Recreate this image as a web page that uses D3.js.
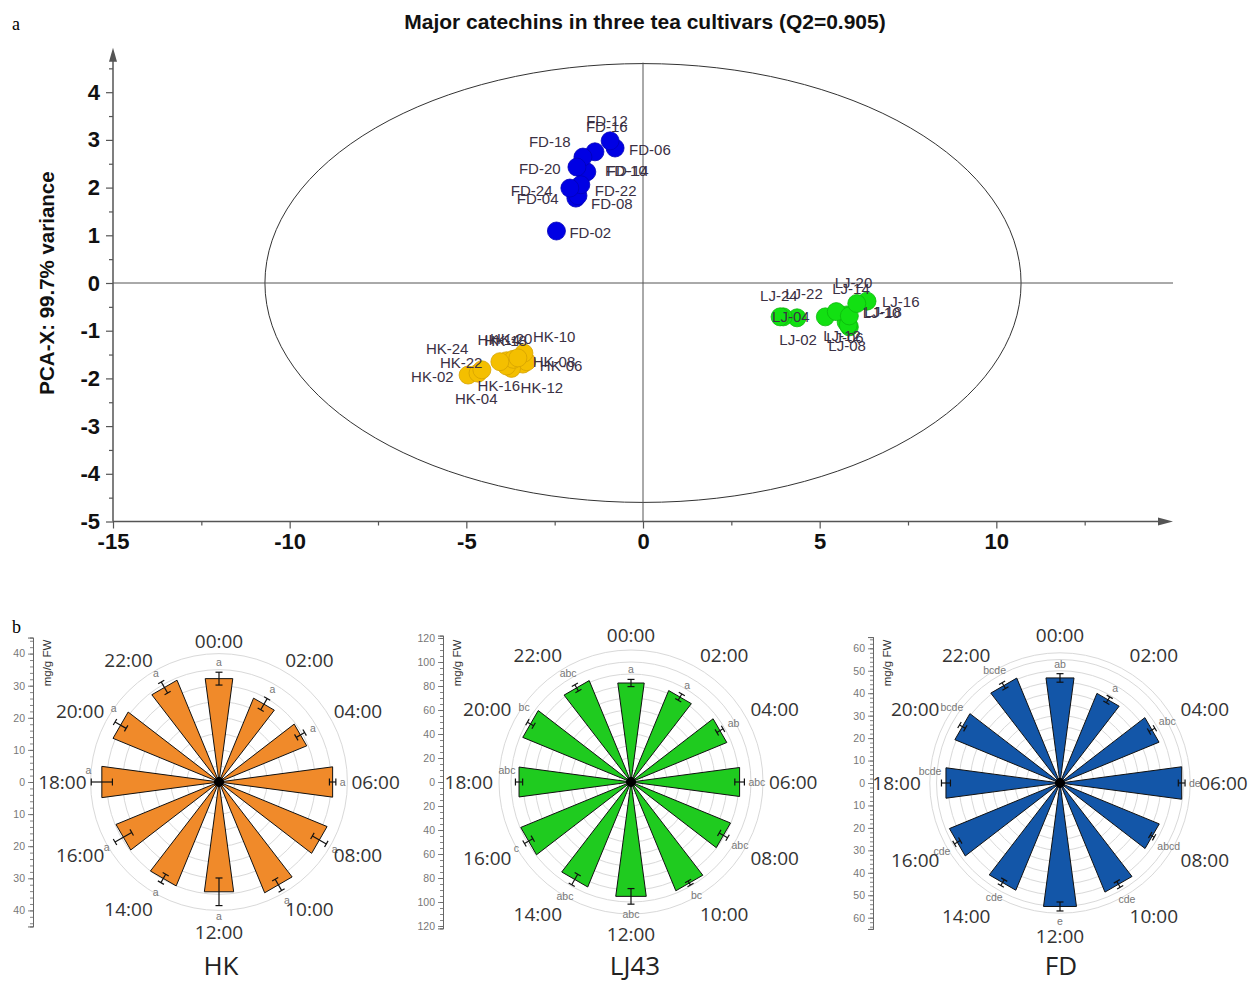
<!DOCTYPE html>
<html><head><meta charset="utf-8">
<script src="https://cdn.jsdelivr.net/npm/d3@7"></script>
<style>body{margin:0;background:#fff} svg{display:block}</style>
</head><body><svg id="c" width="1249" height="982"></svg>
<script>
// ---------------- DATA ----------------
// Panel a: PCA scores
const fdNames = ["FD-02","FD-04","FD-06","FD-08","FD-10","FD-12","FD-14","FD-16","FD-18","FD-20","FD-22","FD-24"];
const fdX = [-2.45,-1.90,-0.79,-1.84,-1.64,-0.93,-1.59,-1.36,-1.70,-1.87,-1.76,-2.07];
const fdY = [1.09,1.78,2.83,1.83,2.32,2.98,2.33,2.75,2.64,2.43,2.06,1.99];
const ljNames = ["LJ-02","LJ-04","LJ-06","LJ-08","LJ-10","LJ-12","LJ-14","LJ-16","LJ-18","LJ-20","LJ-22","LJ-24"];
const ljX = [5.16,4.36,5.75,5.84,5.77,5.81,5.47,6.34,5.84,6.05,3.97,3.88];
const ljY = [-0.71,-0.73,-0.82,-0.92,-0.67,-0.88,-0.60,-0.38,-0.69,-0.43,-0.71,-0.71];
const hkNames = ["HK-02","HK-04","HK-06","HK-08","HK-10","HK-12","HK-14","HK-16","HK-18","HK-20","HK-22","HK-24"];
const hkX = [-4.95,-4.67,-3.40,-3.29,-3.37,-3.72,-3.86,-3.86,-3.67,-3.54,-4.56,-4.05];
const hkY = [-1.93,-1.89,-1.70,-1.65,-1.47,-1.79,-1.63,-1.74,-1.60,-1.57,-1.82,-1.65];
const xTicks = [-15,-10,-5,0,5,10];
const yTicks = [-5,-4,-3,-2,-1,0,1,2,3,4];
const ellipseRx = 10.7, ellipseRy = 4.6;

// Panel b: rose charts (mg/g FW)
const times = ["00:00","02:00","04:00","06:00","08:00","10:00","12:00","14:00","16:00","18:00","20:00","22:00"];
const hkVal = [32.2,28.0,29.3,35.4,36.1,37.0,34.2,34.7,34.4,36.5,35.4,34.0];
const hkErr = [2.0,2.0,1.5,1.0,2.5,2.0,4.3,1.5,3.0,3.3,2.0,2.0];
const hkLet = ["a","a","a","a","a","a","a","a","a","a","a","a"];
const ljVal = [82.5,81.7,85.6,90.5,88.9,97.2,95.3,93.8,98.5,93.3,96.7,90.6];
const ljErr = [3,3,3,4,4,2,6.5,5,4,3,3,3];
const ljLet = ["a","a","ab","abc","abc","bc","abc","abc","c","abc","bc","abc"];
const fdVal = [46.8,42.8,47.3,54.2,47.4,52.1,55.0,51.2,52.8,50.8,50.2,50.1];
const fdErr = [1.9,1.5,1.5,1.5,1.0,1.5,2.0,1.5,1.5,2.0,1.5,1.5];
const fdLet = ["ab","a","abc","de","abcd","cde","e","cde","cde","bcde","bcde","bcde"];

// ---------------- LAYOUT / STYLE ----------------
const svg = d3.select("#c");
const labelNudge = {
 "FD-02":[13,1],"FD-04":[-59,0],"FD-06":[14,1],"FD-08":[13,8],"FD-10":[20,-2],"FD-12":[-24,-20],
 "FD-14":[20,-1],"FD-16":[-9,-25],"FD-18":[-54,-16],"FD-20":[-58,1],"FD-22":[14,6],"FD-24":[-59,2],
 "LJ-02":[-46,23],"LJ-04":[-25,-1],"LJ-06":[-20,15],"LJ-08":[-21,19],"LJ-10":[16,-2],"LJ-12":[-25,11],
 "LJ-14":[-4,-23],"LJ-16":[15,0],"LJ-18":[15,-4],"LJ-20":[-22,-21],"LJ-22":[2,-23],"LJ-24":[-20,-21],
 "HK-02":[-57,1],"HK-04":[-23,25],"HK-06":[17,1],"HK-08":[6,0],"HK-10":[9,-17],"HK-12":[9,19],
 "HK-14":[-29,-21],"HK-16":[-29,20],"HK-18":[-29,-19],"HK-20":[-28,-19],"HK-22":[-42,-7],"HK-24":[-74,-13]
};
const sans = "Liberation Sans, Arial, sans-serif";

// panel letters
svg.append("text").attr("x",12).attr("y",30).attr("font-family","Liberation Serif, serif").attr("font-size",18).text("a");
svg.append("text").attr("x",12).attr("y",633).attr("font-family","Liberation Serif, serif").attr("font-size",18).text("b");

// ---------------- PANEL A ----------------
const x = d3.scaleLinear().domain([-15,15]).range([113,1173]);
const y = d3.scaleLinear().domain([-5,5]).range([521.5,44.5]);
const A = svg.append("g");
const axCol = "#555";

A.append("text").attr("x",645).attr("y",29).attr("text-anchor","middle")
 .attr("font-family",sans).attr("font-weight","bold").attr("font-size",21)
 .attr("fill","#111").text("Major catechins in three tea cultivars (Q2=0.905)");
A.append("text").attr("transform",`translate(46,${y(0)}) rotate(-90)`).attr("text-anchor","middle")
 .attr("dominant-baseline","central")
 .attr("font-family",sans).attr("font-weight","bold").attr("font-size",20.5)
 .attr("fill","#111").text("PCA-X: 99.7% variance");

// ellipse
A.append("ellipse").attr("cx",x(0)).attr("cy",y(0))
 .attr("rx",x(ellipseRx)-x(0)).attr("ry",y(0)-y(ellipseRy))
 .attr("fill","none").attr("stroke","#333").attr("stroke-width",1);
// zero lines
A.append("line").attr("x1",x(-15)).attr("x2",x(15)).attr("y1",y(0)).attr("y2",y(0)).attr("stroke",axCol).attr("stroke-width",1);
A.append("line").attr("x1",x(0)).attr("x2",x(0)).attr("y1",y(4.62)).attr("y2",y(-5)).attr("stroke",axCol).attr("stroke-width",1);

// axes
const yAx = A.append("g").attr("transform",`translate(${x(-15)},0)`)
 .call(d3.axisLeft(y).tickValues(yTicks).tickSize(7).tickPadding(6).tickFormat(d=>String(d)));
const yMin = A.append("g").attr("transform",`translate(${x(-15)},0)`)
 .call(d3.axisLeft(y).tickValues(d3.range(-4.5,5,1)).tickSize(4).tickFormat(""));
const xAx = A.append("g").attr("transform",`translate(0,${y(-5)})`)
 .call(d3.axisBottom(x).tickValues(xTicks).tickSize(7).tickPadding(5).tickFormat(d=>String(d)));
const xMin = A.append("g").attr("transform",`translate(0,${y(-5)})`)
 .call(d3.axisBottom(x).tickValues(d3.range(-12.5,13,5)).tickSize(4).tickFormat(""));
[yAx,yMin,xAx,xMin].forEach(g=>{ g.select(".domain").remove(); g.selectAll("line").attr("stroke",axCol).attr("stroke-width",1.2);});
[yAx,xAx].forEach(g=>g.selectAll("text").attr("font-family",sans)
 .attr("font-weight","bold").attr("font-size",22).attr("fill","#111"));
// axis lines with arrows
A.append("line").attr("x1",x(-15)).attr("x2",x(-15)).attr("y1",y(-5)).attr("y2",y(4.72)).attr("stroke",axCol).attr("stroke-width",1.5);
A.append("line").attr("x1",x(-15)).attr("x2",x(14.6)).attr("y1",y(-5)).attr("y2",y(-5)).attr("stroke",axCol).attr("stroke-width",1.5);
const tipY = y(4.93), tipX = x(15);
A.append("path").attr("d",`M${x(-15)},${tipY} L${x(-15)-4},${tipY+14} L${x(-15)+4},${tipY+14} Z`).attr("fill",axCol);
A.append("path").attr("d",`M${tipX},${y(-5)} L${tipX-15},${y(-5)-4} L${tipX-15},${y(-5)+4} Z`).attr("fill",axCol);

// points
const groups = [
 {names:hkNames, xs:hkX, ys:hkY, fill:"#f4bf00", stroke:"#d6a200"},
 {names:ljNames, xs:ljX, ys:ljY, fill:"#12e012", stroke:"#0cb80c"},
 {names:fdNames, xs:fdX, ys:fdY, fill:"#0000e4", stroke:"#0000b8"}
];
groups.forEach(gp=>{
  const pts = gp.names.map((n,i)=>({n, x:gp.xs[i], y:gp.ys[i]}));
  A.append("g").selectAll("circle").data(pts).join("circle")
   .attr("cx",d=>x(d.x)).attr("cy",d=>y(d.y)).attr("r",9)
   .attr("fill",gp.fill).attr("stroke",gp.stroke).attr("stroke-width",0.8);
  A.append("g").selectAll("text").data(pts).join("text")
   .attr("x",d=>x(d.x)+labelNudge[d.n][0]).attr("y",d=>y(d.y)+labelNudge[d.n][1])
   .attr("dominant-baseline","central")
   .attr("font-family",sans).attr("font-size",15)
   .attr("fill","#3a3044").text(d=>d.n);
});

// ---------------- PANEL B ----------------
const roses = [
 {title:"HK", vals:hkVal, errs:hkErr, lets:hkLet, color:"#f08a2a", cx:219, cy:782, k:3.21, gridMax:40, gridStep:5, scaleMax:45, lab:10, minor:2, barX:33, tx:221, lblPad:4, botExtra:4},
 {title:"LJ43", vals:ljVal, errs:ljErr, lets:ljLet, color:"#1fcb1f", cx:631, cy:782, k:1.2, gridMax:110, gridStep:10, scaleMax:122, lab:20, minor:5, barX:443, tx:635, lblPad:6, botExtra:0},
 {title:"FD", vals:fdVal, errs:fdErr, lets:fdLet, color:"#1356a8", cx:1060, cy:783, k:2.245, gridMax:58, gridStep:5, scaleMax:65, lab:10, minor:2, barX:873, tx:1061, lblPad:9, botExtra:0}
];
const fontUI = "Open Sans, Noto Sans, sans-serif";
const rad = a => a*Math.PI/180;
const P = (cx,cy,d,a) => [cx + d*Math.sin(rad(a)), cy - d*Math.cos(rad(a))];

roses.forEach(R=>{
  const g = svg.append("g");
  const r = d3.scaleLinear().domain([0,R.gridMax]).range([0,R.gridMax*R.k]);
  // grid
  const gv = d3.range(R.gridStep, R.gridMax, R.gridStep).concat([R.gridMax]);
  g.append("g").selectAll("circle").data(gv).join("circle")
   .attr("cx",R.cx).attr("cy",R.cy).attr("r",d=>r(d))
   .attr("fill","none").attr("stroke","#d9d9d9").attr("stroke-width",1);
  // bars
  const half = 7.6;
  const data = R.vals.map((v,i)=>({v, e:R.errs[i], l:R.lets[i], a:i*30, t:times[i]}));
  g.append("g").selectAll("path").data(data).join("path")
   .attr("d",d=>{
     const dd = r(d.v)/Math.cos(rad(half));
     const p1 = P(R.cx,R.cy,dd,d.a-half), p2 = P(R.cx,R.cy,dd,d.a+half);
     return `M${R.cx},${R.cy}L${p1[0]},${p1[1]}L${p2[0]},${p2[1]}Z`;
   })
   .attr("fill",R.color).attr("stroke","#111").attr("stroke-width",1);
  // error bars
  const eg = g.append("g").attr("stroke","#111").attr("stroke-width",1.2);
  data.forEach(d=>{
    const lo = P(R.cx,R.cy,r(d.v-d.e),d.a), hi = P(R.cx,R.cy,r(d.v+d.e),d.a);
    eg.append("line").attr("x1",lo[0]).attr("y1",lo[1]).attr("x2",hi[0]).attr("y2",hi[1]);
    [lo,hi].forEach(p=>{
      const ca = rad(d.a), ux = Math.cos(ca)*3.5, uy = Math.sin(ca)*3.5;
      eg.append("line").attr("x1",p[0]-ux).attr("y1",p[1]-uy).attr("x2",p[0]+ux).attr("y2",p[1]+uy);
    });
  });
  // center dot
  g.append("circle").attr("cx",R.cx).attr("cy",R.cy).attr("r",5).attr("fill","#000");
  // significance letters
  g.append("g").selectAll("text").data(data).join("text")
   .attr("text-anchor","middle").attr("dominant-baseline","central")
   .attr("font-family",sans).attr("font-size",10.5).attr("fill","#777")
   .text(d=>d.l)
   .each(function(d){
     const w = this.getComputedTextLength();
     const s = Math.abs(Math.sin(rad(d.a))), c = Math.abs(Math.cos(rad(d.a)));
     const end = r(d.v+d.e);
     let p;
     if (d.a === 270) { p = P(R.cx,R.cy,end + w/2,d.a); p[1] -= 12; }
     else if (d.a === 300) { p = P(R.cx,R.cy,end + 3 + s*w/2 + c*6,d.a+5); }
     else { p = P(R.cx,R.cy,end + 4 + s*w/2 + c*6,d.a); }
     d3.select(this).attr("x",p[0]).attr("y",p[1]);
   });
  // time labels
  const outer = r(R.gridMax);
  g.append("g").selectAll("text").data(data).join("text")
   .attr("font-family",fontUI).attr("font-size",19).attr("fill","#333")
   .attr("text-anchor","middle").attr("dominant-baseline","central")
   .text(d=>d.t)
   .each(function(d){
     const w = this.getComputedTextLength();
     const sn = Math.sin(rad(d.a)), cs = Math.cos(rad(d.a));
     const p = P(R.cx,R.cy,outer+R.lblPad,d.a);
     const ox = Math.abs(sn) > 0.01 ? Math.sign(sn)*w/2 : 0;
     const oy = -cs*(cs > 0 ? 9 : 14) + (cs < -0.99 ? R.botExtra : 0);
     d3.select(this).attr("x",p[0]+ox).attr("y",p[1]+oy);
   });
  // title
  g.append("text").attr("x",R.tx).attr("y",975).attr("text-anchor","middle")
   .attr("font-family",fontUI).attr("font-size",26).attr("fill","#222").text(R.title);
  // scale bar
  const s = d3.scaleLinear().domain([-R.scaleMax,R.scaleMax]).range([R.cy+R.scaleMax*R.k, R.cy-R.scaleMax*R.k]);
  const labV = d3.range(-Math.floor(R.scaleMax/R.lab)*R.lab, R.scaleMax+0.001, R.lab);
  const minV = d3.range(-Math.floor(R.scaleMax/R.minor)*R.minor, R.scaleMax+0.001, R.minor);
  const sb = g.append("g").attr("transform",`translate(${R.barX},0)`)
   .call(d3.axisLeft(s).tickValues(labV).tickSize(5).tickPadding(3).tickFormat(d=>String(Math.abs(d))));
  const sm = g.append("g").attr("transform",`translate(${R.barX},0)`)
   .call(d3.axisLeft(s).tickValues(minV).tickSize(3).tickFormat(""));
  [sb,sm].forEach(a=>{a.select(".domain").attr("stroke","#666").attr("stroke-width",1); a.selectAll("line").attr("stroke","#666").attr("stroke-width",0.8);});
  sb.selectAll("text").attr("font-family",sans).attr("font-size",10.5).attr("fill","#777");
  g.append("text").attr("transform",`translate(${R.barX+14},663) rotate(-90)`).attr("text-anchor","middle")
   .attr("dominant-baseline","central")
   .attr("font-family",sans).attr("font-size",11.5).attr("fill","#333").text("mg/g FW");
});
</script></body></html>
